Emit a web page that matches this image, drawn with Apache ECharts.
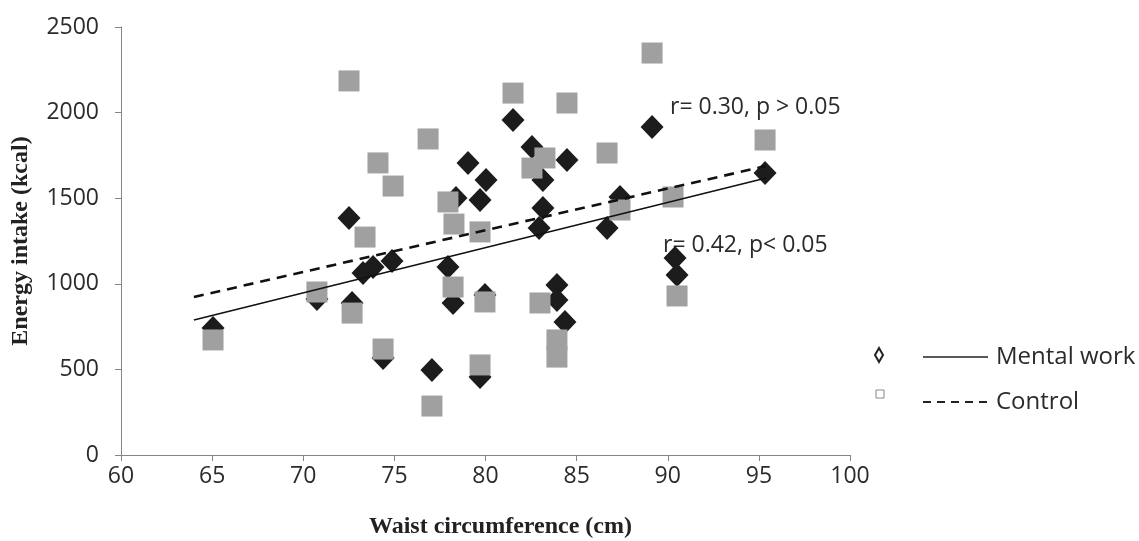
<!DOCTYPE html>
<html>
<head>
<meta charset="utf-8">
<script src="https://cdn.jsdelivr.net/npm/echarts@6/dist/echarts.min.js"></script>
<style>html,body{margin:0;padding:0;background:#fff;}#c{width:1139px;height:541px;}</style>
</head>
<body>
<div id="c"></div>
<script>
// Mental work group: [waist circumference (cm), energy intake (kcal)]
const mentalWork = [
  [65.05, 742], [70.75, 911], [72.51, 1384], [72.68, 888], [73.28, 1063],
  [73.83, 1098], [74.87, 1133], [74.38, 567], [77.06, 496], [77.94, 1098],
  [78.22, 888], [78.38, 1501], [79.04, 1706], [79.70, 1489], [80.03, 1606],
  [79.70, 456], [79.97, 935], [81.51, 1957], [82.55, 1799], [83.15, 1606],
  [84.47, 1723], [83.15, 1443], [82.94, 1326], [83.92, 993], [83.92, 905],
  [84.36, 777], [86.67, 1326], [87.38, 1507], [89.14, 1916], [90.40, 1151],
  [90.51, 1051], [95.34, 1647]
];
// Control group
const control = [
  [65.05, 672], [70.75, 952], [72.68, 829], [72.51, 2185], [73.39, 1273],
  [74.10, 1706], [74.93, 1571], [74.38, 619], [76.85, 1846], [77.06, 286],
  [77.94, 1478], [78.27, 1349], [78.22, 981], [79.70, 1303], [79.97, 894],
  [79.70, 526], [81.51, 2114], [82.55, 1676], [83.26, 1735], [84.47, 2056],
  [82.99, 888], [83.92, 672], [83.92, 572], [89.14, 2348], [95.34, 1840],
  [86.67, 1764], [87.38, 1431], [90.29, 1507], [90.51, 929]
];
// Regression lines (end points)
const mentalFit = [[64.0, 789], [95.4, 1618]];
const controlFit = [[64.0, 923], [95.4, 1688]];
const annotations = ['r= 0.30, p > 0.05', 'r= 0.42, p< 0.05'];
const legendNames = ['Mental work', 'Control'];

const chart = echarts.init(document.getElementById('c'), null, {renderer: 'canvas'});
const tickFont = {fontFamily: 'Open Sans', fontSize: 23, color: '#2b2b2b'};
const axisCol = '#858585';
chart.setOption({
  animation: false,
  backgroundColor: '#ffffff',
  grid: {left: 121, right: 289, top: 27, bottom: 86, containLabel: false, outerBoundsMode: 'none'},
  xAxis: {
    type: 'value', min: 60, max: 100, interval: 5,
    name: 'Waist circumference (cm)', nameLocation: 'middle', nameGap: 60,
    nameTextStyle: {fontFamily: 'Liberation Serif', fontWeight: 'bold', fontSize: 24, color: '#222', padding: [0, 0, 0, 30]},
    axisLine: {show: true, lineStyle: {color: axisCol, width: 1}},
    axisTick: {show: true, length: 6, lineStyle: {color: axisCol}},
    axisLabel: Object.assign({margin: 10, formatter: v => String(v)}, tickFont),
    splitLine: {show: false}
  },
  yAxis: {
    type: 'value', min: 0, max: 2500, interval: 500,
    name: 'Energy intake (kcal)', nameLocation: 'middle', nameGap: 88, nameRotate: 90,
    nameTextStyle: {fontFamily: 'Liberation Serif', fontWeight: 'bold', fontSize: 24, color: '#222'},
    axisLine: {show: true, lineStyle: {color: axisCol, width: 1}},
    axisTick: {show: true, length: 6, lineStyle: {color: axisCol}},
    axisLabel: Object.assign({margin: 22, formatter: v => String(v)}, tickFont),
    splitLine: {show: false}
  },
  series: [
    {type: 'scatter', name: legendNames[0], data: mentalWork, symbol: 'diamond', symbolSize: [23, 24],
     itemStyle: {color: '#1c1c1c', opacity: 1}},
    {type: 'scatter', name: legendNames[1], data: control, symbol: 'rect', symbolSize: 21,
     itemStyle: {color: '#a0a0a0', opacity: 1}},
    {type: 'line', data: mentalFit, symbol: 'none', lineStyle: {color: '#111', width: 1.6}},
    {type: 'line', data: controlFit, symbol: 'none', lineStyle: {color: '#111', width: 2.6, type: [10, 7]}}
  ],
  graphic: [
    {type: 'text', left: 670, top: 96, style: {text: annotations[0], font: '23px "Open Sans"', fill: '#2b2b2b'}},
    {type: 'text', left: 663, top: 234, style: {text: annotations[1], font: '23px "Open Sans"', fill: '#2b2b2b'}},
    {type: 'polygon', shape: {points: [[879, 348], [883, 355], [879, 362], [875, 355]]}, style: {fill: 'none', stroke: '#222', lineWidth: 2}},
    {type: 'line', shape: {x1: 923, y1: 357, x2: 988, y2: 357}, style: {stroke: '#222', lineWidth: 1.5}},
    {type: 'text', left: 996, top: 345, style: {text: legendNames[0], font: '24px "Open Sans"', fill: '#2b2b2b'}},
    {type: 'rect', shape: {x: 876, y: 390, width: 8, height: 8}, style: {fill: 'none', stroke: '#888', lineWidth: 1}},
    {type: 'line', shape: {x1: 923, y1: 402, x2: 988, y2: 402}, style: {stroke: '#222', lineWidth: 2, lineDash: [8, 6]}},
    {type: 'text', left: 996, top: 390, style: {text: legendNames[1], font: '24px "Open Sans"', fill: '#2b2b2b'}}
  ]
});
</script>
</body>
</html>
